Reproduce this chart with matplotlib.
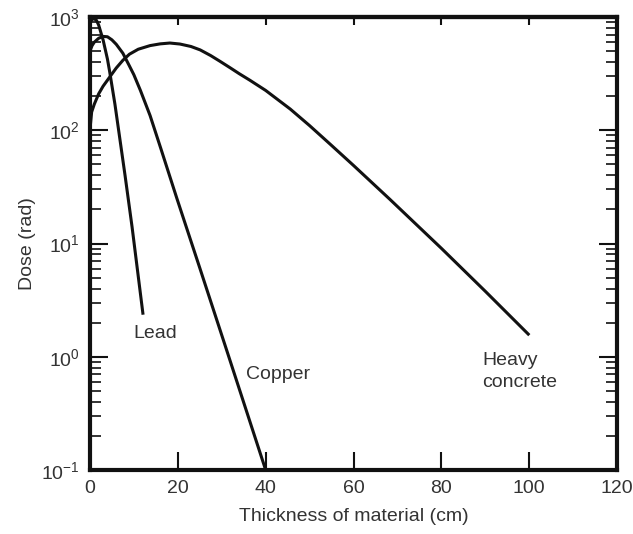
import matplotlib
matplotlib.use("Agg")
import matplotlib.pyplot as plt
from matplotlib.ticker import LogLocator, NullFormatter

plt.rcParams['font.family'] = ['Liberation Sans', 'DejaVu Sans']

# dose curves (thickness in cm, dose in rad)
lead_x = [0, 0.5, 1, 1.5, 2, 3, 4, 4.5, 5.7, 8, 9.6, 12.1]
lead_y = [890, 955, 965, 935, 850, 630, 425, 330, 170, 40, 14, 2.35]

copper_x = [0, 0.5, 1, 2, 3, 4, 5, 6, 7.5, 9, 10, 11.5, 13.7, 16.2, 19.8, 25, 31.2, 40]
copper_y = [500, 560, 600, 650, 675, 670, 630, 575, 480, 370, 310, 225, 135, 68, 25, 6.1, 1.12, 0.1]

concrete_x = [0, 0.4, 1, 2, 3, 4.5, 6, 7.5, 9, 11, 13.7, 16, 18.2, 20.5, 23, 25.1, 27.5,
              29.6, 32, 34, 36.4, 40, 45.6, 50, 54.7, 60, 68.3, 80, 90, 100]
concrete_y = [100, 145, 170, 210, 245, 295, 355, 415, 470, 520, 560, 580, 590, 578, 550,
              513, 457, 407, 355, 316, 277, 225, 154, 110, 75.3, 48.9, 24.5, 9.06, 3.78, 1.55]

x_ticks = [0, 20, 40, 60, 80, 100, 120]

ink = '#111111'
txt = '#333333'

fig = plt.figure(figsize=(6.33, 5.34), dpi=100)
ax = fig.add_axes([0.142, 0.12, 0.833, 0.848])

for xs, ys in [(lead_x, lead_y), (copper_x, copper_y), (concrete_x, concrete_y)]:
    ax.plot(xs, ys, color=ink, lw=2.2, solid_capstyle='butt', solid_joinstyle='round')

ax.set_yscale('log')
ax.set_xlim(0, 120)
ax.set_ylim(0.1, 1000)
ax.set_xticks(x_ticks)
ax.yaxis.set_major_locator(LogLocator(base=10, numticks=10))
ax.yaxis.set_minor_locator(LogLocator(base=10, subs=range(2, 10), numticks=20))
ax.yaxis.set_minor_formatter(NullFormatter())

for s in ax.spines.values():
    s.set_linewidth(3)
    s.set_color(ink)

ax.tick_params(axis='both', which='major', direction='in', length=13, width=1.5,
               color=ink, labelsize=14, labelcolor=txt, pad=7)
ax.tick_params(axis='y', which='both', right=True)
ax.tick_params(axis='y', which='minor', direction='in', length=8, width=1.2, color=ink)

# short inward ticks along the top edge
top = ax.secondary_xaxis('top')
top.set_xticks(x_ticks)
top.tick_params(direction='in', length=6, width=1.5, color=ink, labeltop=False)
top.spines['top'].set_linewidth(3)

ax.set_xlabel('Thickness of material (cm)', fontsize=14, color=txt, labelpad=8)
ax.set_ylabel('Dose (rad)', fontsize=14, color=txt, labelpad=4)

ax.text(10, 1.6, 'Lead', fontsize=14, color=txt, va='center', ha='left')
ax.text(35.5, 0.7, 'Copper', fontsize=14, color=txt, va='center', ha='left')
ax.text(89.3, 0.74, 'Heavy\nconcrete', fontsize=14, color=txt, va='center', ha='left',
        linespacing=1.35)

fig.savefig('out.png', dpi=100)
